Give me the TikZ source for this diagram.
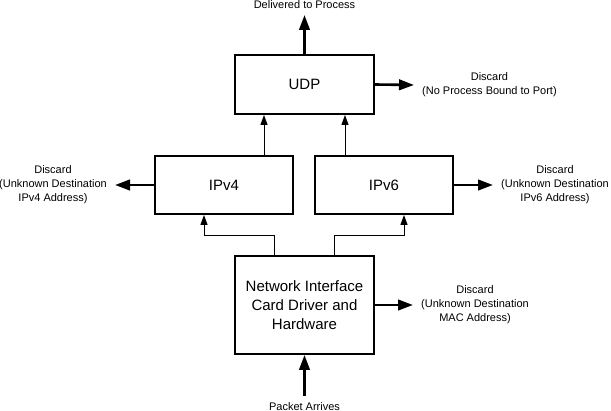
\documentclass[tikz,border=0pt]{standalone}
\usepackage{fontspec}
\setmainfont{Liberation Sans}
\usepackage{tikz}
\usetikzlibrary{positioning,arrows.meta}

\begin{document}
\begin{tikzpicture}[
  x=1pt, y=-1pt,
  box/.style  = {draw=black, line width=2.4pt, fill=white,
                 minimum width=138.5pt, minimum height=58.5pt, align=center,
                 font=\fontsize{15}{19}\selectfont, inner sep=2pt},
  ipbox/.style = {box, minimum width=137.5pt, minimum height=57.5pt},
  big/.style  = {-{Triangle[length=15pt,width=10.5pt]}, line width=2.6pt},
  small/.style = {-{Triangle[length=10pt,width=7pt]}, line width=1pt},
  lbl/.style  = {font=\fontsize{11}{14}\selectfont, align=center,
                 inner xsep=8pt, inner ysep=6pt},
]
  \useasboundingbox (0,0) rectangle (611,411);

  % ---- protocol boxes ---------------------------------------
  \node[box]   (udp)  at (304.5, 84.5) {UDP};
  \node[ipbox] (ipv4) at (224, 185) {IPv4};
  \node[ipbox] (ipv6) at (384, 185) {IPv6};
  \node[box, minimum height=97.5pt] (nic) at (304.5, 305)
       {Network Interface\\Card Driver and\\Hardware};

  % ---- labels -----------------------------------------------
  \node[lbl, anchor=south] (deliv) at (304.5, 15) {Delivered to Process};
  \node[lbl, anchor=west]  (dudp)  at (414, 85)
       {Discard\\(No Process Bound to Port)};
  \node[lbl, anchor=east]  (dv4)   at (115, 185)
       {Discard\\(Unknown Destination\\IPv4 Address)};
  \node[lbl, anchor=west]  (dv6)   at (493, 185)
       {Discard\\(Unknown Destination\\IPv6 Address)};
  \node[lbl, anchor=west]  (dmac)  at (413, 305)
       {Discard\\(Unknown Destination\\MAC Address)};
  \node[lbl, anchor=north] (pkt)   at (304.5, 396) {Packet Arrives};

  % ---- thick arrows -----------------------------------------
  \draw[big] (pkt.north) -- (nic.south);
  \draw[big] (udp.north) -- (deliv.south);
  \draw[big] (udp.east)  -- (dudp.west);
  \draw[big] (ipv4.west) -- (dv4.east);
  \draw[big] (ipv6.east) -- (dv6.west);
  \draw[big] (nic.east)  -- (dmac.west);

  % ---- thin arrows ------------------------------------------
  \draw[small] ([xshift=-30.5pt]nic.north) -- ++(0,-20)
               -| ([xshift=-20pt]ipv4.south);
  \draw[small] ([xshift=29.5pt]nic.north) -- ++(0,-20)
               -| ([xshift=20pt]ipv6.south);
  \draw[small] ([xshift=40pt]ipv4.north)
               -- ([xshift=40pt]ipv4.north |- udp.south);
  \draw[small] ([xshift=-39pt]ipv6.north)
               -- ([xshift=-39pt]ipv6.north |- udp.south);

\end{tikzpicture}
\end{document}
